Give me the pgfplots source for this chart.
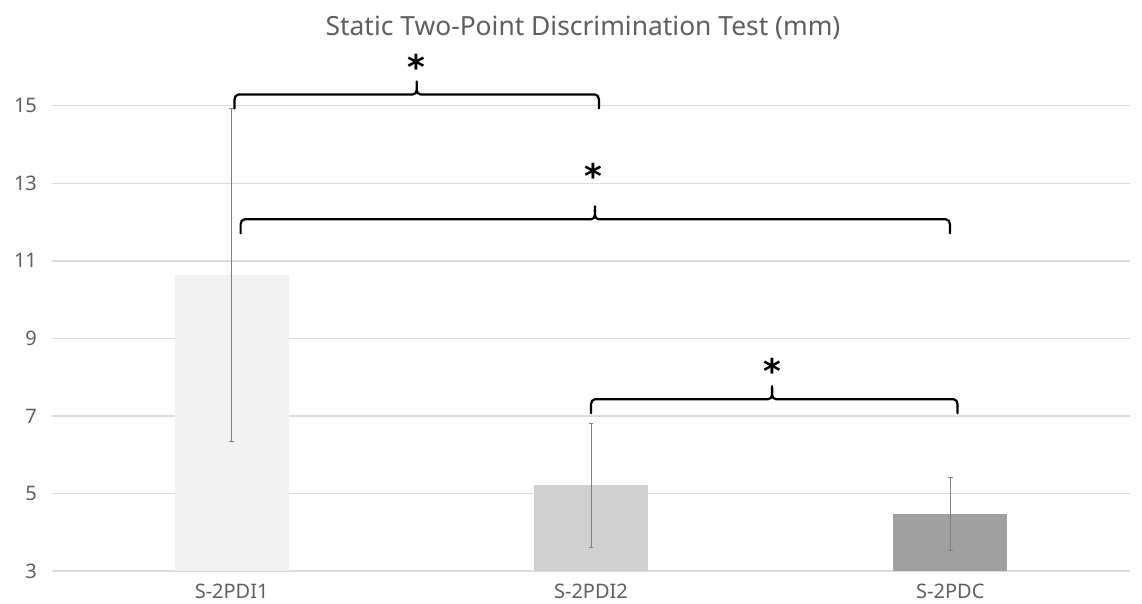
\documentclass[border=0pt]{standalone}
\usepackage{fontspec}
\setmainfont{Noto Sans}
\newfontfamily\djv{DejaVu Sans}
\usepackage{pgfplots}
\pgfplotsset{compat=1.18}
\definecolor{txtgray}{HTML}{5F5F5F}
\definecolor{gridgray}{HTML}{DCDCDC}
\definecolor{barA}{HTML}{F2F2F2}
\definecolor{barB}{HTML}{D0D0D0}
\definecolor{barC}{HTML}{A0A0A0}
% #1 left x, #2 right x, #3 tip x, #4 base y
\newcommand{\sigbrace}[4]{%
\draw[line width=1.1pt, line join=round, line cap=round]
 (axis cs:#1,#4) -- ([yshift=4.5pt]axis cs:#1,#4)
 to[out=90,in=180] ([xshift=2pt,yshift=7pt]axis cs:#1,#4)
 -- ([xshift=-2pt,yshift=7pt]axis cs:#3,#4)
 to[out=0,in=270] ([yshift=13.5pt]axis cs:#3,#4)
 to[out=270,in=180] ([xshift=2pt,yshift=7pt]axis cs:#3,#4)
 -- ([xshift=-2pt,yshift=7pt]axis cs:#2,#4)
 to[out=0,in=90] ([yshift=4.5pt]axis cs:#2,#4)
 -- (axis cs:#2,#4);}
\begin{document}
\begin{tikzpicture}
\begin{axis}[
  name=ax,
  at={(0,0)}, anchor=south west,
  scale only axis,
  width=539pt, height=252pt,
  xmin=-0.5, xmax=2.5,
  ymin=3, ymax=16,
  ytick={3,5,7,9,11,13,15},
  xtick={0,1,2},
  xticklabels={S-2PDI1,S-2PDI2,S-2PDC},
  ymajorgrids,
  grid style={gridgray, line width=0.7pt},
  axis line style={draw=none},
  major tick length=0pt,
  tick label style={font=\fontsize{10}{12}\selectfont, text=txtgray},
  /pgf/number format/assume math mode=true,
  yticklabel style={xshift=-4pt},
  xticklabel style={yshift=-3pt},
  clip=false,
  ybar, bar width=57pt, bar shift=0pt,
  error bars/y dir=both, error bars/y explicit,
  error bars/error bar style={color=gray, line width=0.5pt},
  error bars/error mark options={rotate=90, mark size=1.2pt, color=gray},
]
\addplot[fill=barA, draw=none] coordinates {(0,10.63) +- (0,4.30)};
\addplot[fill=barB, draw=none] coordinates {(1,5.21) +- (0,1.60)};
\addplot[fill=barC, draw=none] coordinates {(2,4.48) +- (0,0.94)};

\sigbrace{0.008}{1.022}{0.515}{14.93}
\sigbrace{0.025}{1.999}{1.011}{11.71}
\sigbrace{1.000}{2.020}{1.504}{7.07}

\node[anchor=north, inner sep=0pt, font=\djv\fontsize{17}{17}\selectfont\bfseries] at (axis cs:0.515,16.35) {*};
\node[anchor=north, inner sep=0pt, font=\djv\fontsize{17}{17}\selectfont\bfseries] at (axis cs:1.006,13.52) {*};
\node[anchor=north, inner sep=0pt, font=\djv\fontsize{17}{17}\selectfont\bfseries] at (axis cs:1.504,8.49) {*};

\node[anchor=center, text=txtgray, font=\fontsize{13.2}{15}\selectfont] at (rel axis cs:0.4926,1.077) {Static Two-Point Discrimination Test (mm)};
\end{axis}
\pgfresetboundingbox
\path[use as bounding box] ([xshift=-26pt,yshift=-16.5pt]ax.south west) rectangle ([xshift=545pt,yshift=285.5pt]ax.south west);
\end{tikzpicture}
\end{document}
